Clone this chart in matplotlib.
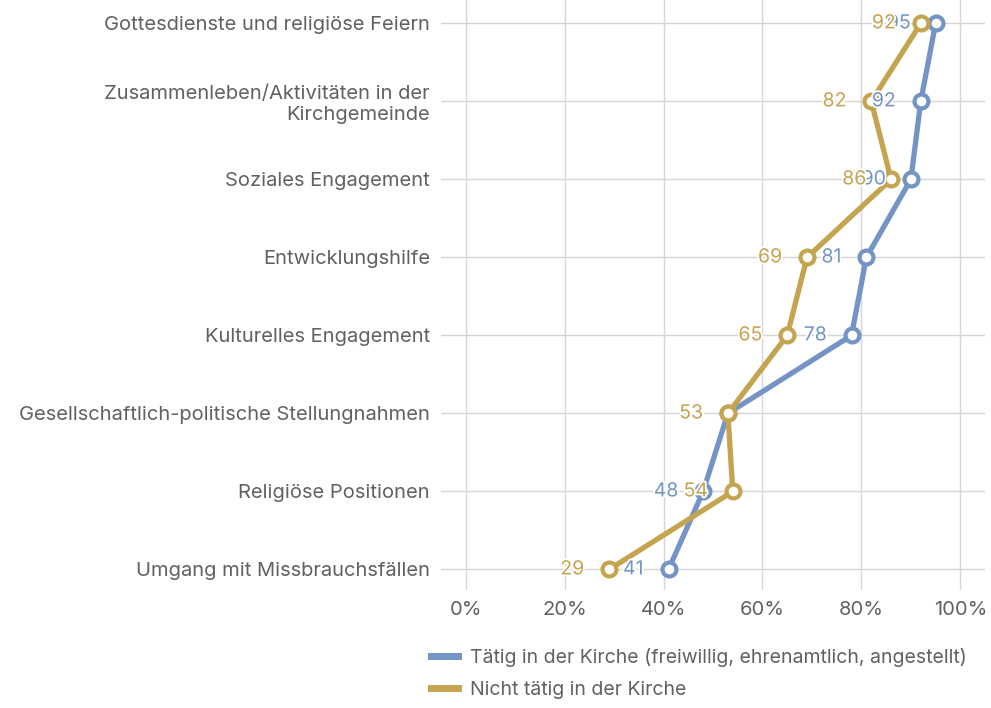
import matplotlib.pyplot as plt
import matplotlib.patheffects as pe
from matplotlib.lines import Line2D

categories = ['Gottesdienste und religiöse Feiern',
              'Zusammenleben/Aktivitäten in der\nKirchgemeinde',
              'Soziales Engagement',
              'Entwicklungshilfe',
              'Kulturelles Engagement',
              'Gesellschaftlich-politische Stellungnahmen',
              'Religiöse Positionen',
              'Umgang mit Missbrauchsfällen']
taetig = [95, 92, 90, 81, 78, 53, 48, 41]
nicht_taetig = [92, 82, 86, 69, 65, 53, 54, 29]
series_names = ['Tätig in der Kirche (freiwillig, ehrenamtlich, angestellt)',
                'Nicht tätig in der Kirche']
xticks = [0, 20, 40, 60, 80, 100]

blue = '#7394c4'
gold = '#c4a44f'
grey = '#616161'
plt.rcParams['font.family'] = ['Inter', 'DejaVu Sans']

fig = plt.figure(figsize=(9.91, 7.08), dpi=100)
ax = fig.add_axes([0.445, 0.167, 0.549, 0.833])
y = list(range(len(categories)))

ax.plot(taetig, y, color=blue, lw=3.8, marker='o', ms=10, mfc='white',
        mec=blue, mew=3, zorder=3)
ax.plot(nicht_taetig, y, color=gold, lw=3.8, marker='o', ms=10, mfc='white',
        mec=gold, mew=3, zorder=4)

halo = [pe.withStroke(linewidth=2.5, foreground='white')]
for vals, col, z in [(taetig, blue, 5), (nicht_taetig, gold, 6)]:
    for v, yy in zip(vals, y):
        ax.annotate(str(v), (v, yy), xytext=(-18, 0), textcoords='offset points',
                    ha='right', va='center', color=col, fontsize=14, zorder=z,
                    path_effects=halo)

ax.set_xlim(-5, 105)
ax.set_ylim(len(categories) - 1 + 0.26, -0.3)
ax.set_xticks(xticks)
ax.set_xticklabels([f'{t}%' for t in xticks])
ax.set_yticks(y)
ax.set_yticklabels(categories)
ax.grid(True, color='#d5d5d5', lw=1)
ax.set_axisbelow(True)
for s in ax.spines.values():
    s.set_visible(False)
ax.tick_params(length=0, labelsize=14.5, colors=grey, pad=8)
for lab in ax.get_yticklabels():
    lab.set_multialignment('right')

handles = [Line2D([], [], color=blue, lw=5), Line2D([], [], color=gold, lw=5)]
fig.legend(handles, series_names, loc='upper left', bbox_to_anchor=(0.417, 0.11),
           frameon=False, fontsize=14, labelcolor=grey, handlelength=1.4,
           handletextpad=0.6, labelspacing=0.75)

fig.savefig('out.png', dpi=100)
